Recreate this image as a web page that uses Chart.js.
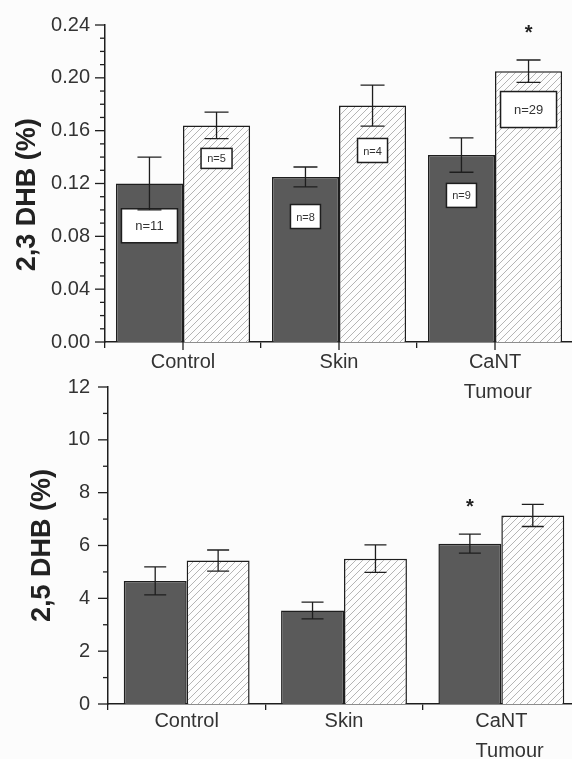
<!DOCTYPE html>
<html>
<head>
<meta charset="utf-8">
<script src="https://cdn.jsdelivr.net/npm/chart.js@4.4.1/dist/chart.umd.min.js"></script>
<style>
  body { margin: 0; background: #fcfcfc; width: 572px; height: 759px; overflow: hidden; position: relative; }
  canvas { position: absolute; left: 0; }
  #top { top: 0; }
  #bottom { top: 370px; }
</style>
</head>
<body>
<canvas id="top" width="573" height="410"></canvas>
<canvas id="bottom" width="580" height="389"></canvas>
<script>
// categories shared by both panels
const categories = ['Control', 'Skin', ['CaNT', ' Tumour']];
const categories25 = ['Control', 'Skin', ['CaNT', '   Tumour']];

// 2,3 DHB (%)
const dhb23Dark = [0.120, 0.125, 0.1415];
const dhb23DarkErr = [0.020, 0.0075, 0.013];
const dhb23Hatch = [0.164, 0.179, 0.205];
const dhb23HatchErr = [0.010, 0.0155, 0.0085];
const dhb23DarkN = ['n=11', 'n=8', 'n=9'];
const dhb23HatchN = ['n=5', 'n=4', 'n=29'];
const dhb23DarkNAt = [0.088, 0.095, 0.111];
const dhb23HatchNAt = [0.139, 0.145, 0.176];
const dhb23DarkStar = [false, false, false];
const dhb23HatchStar = [false, false, true];

// 2,5 DHB (%)
const dhb25Dark = [4.66, 3.54, 6.07];
const dhb25DarkErr = [0.53, 0.32, 0.36];
const dhb25Hatch = [5.43, 5.50, 7.14];
const dhb25HatchErr = [0.40, 0.52, 0.42];
const dhb25DarkStar = [false, false, true];
const dhb25HatchStar = [false, false, false];

// box sizes for the n= labels (style only)
const darkBoxSize = [[56, 34], [30, 24], [30, 24]];
const hatchBoxSize = [[31, 20], [30, 24], [56, 36]];

const FONT = "'Liberation Sans', Arial, sans-serif";
const INK = '#1e1e1e';

function hatch() {
  const c = document.createElement('canvas');
  c.width = 7; c.height = 7;
  const g = c.getContext('2d');
  g.fillStyle = '#fdfdfd';
  g.fillRect(0, 0, 7, 7);
  g.strokeStyle = '#b4b4b4';
  g.lineWidth = 1;
  g.beginPath();
  g.moveTo(0, 7); g.lineTo(7, 0);
  g.moveTo(-1, 1); g.lineTo(1, -1);
  g.moveTo(6, 8); g.lineTo(8, 6);
  g.stroke();
  return g.createPattern(c, 'repeat');
}

// error bars, n= boxes, stars, y minor ticks
const extras = {
  id: 'extras',
  afterDraw(chart, args, opts) {
    const ctx = chart.ctx;
    const y = chart.scales.y, x = chart.scales.x;
    ctx.save();
    ctx.strokeStyle = INK;
    ctx.lineWidth = 1.3;
    // y tick marks, major and minor
    y.ticks.forEach((t, i) => {
      const py = y.getPixelForValue(t.value);
      const len = i % opts.majorEvery === 0 ? 10 : 5;
      ctx.beginPath();
      ctx.moveTo(y.right - len, py);
      ctx.lineTo(y.right, py);
      ctx.stroke();
    });
    if (opts.centerTicks) {
      categories.forEach((c, i) => {
        const px = x.getPixelForValue(i);
        ctx.beginPath();
        ctx.moveTo(px, x.top);
        ctx.lineTo(px, x.top + 8);
        ctx.stroke();
      });
    }
    chart.data.datasets.forEach((ds, di) => {
      const meta = chart.getDatasetMeta(di);
      meta.data.forEach((bar, i) => {
        // n= box
        if (ds.nText) {
          const [w, h] = ds.boxSize[i];
          const cy = y.getPixelForValue(ds.nAt[i]);
          ctx.fillStyle = '#ffffff';
          ctx.fillRect(bar.x - w / 2, cy - h / 2, w, h);
          ctx.lineWidth = 1.5;
          ctx.strokeStyle = INK;
          ctx.strokeRect(bar.x - w / 2, cy - h / 2, w, h);
          ctx.fillStyle = '#333';
          ctx.font = (h > 30 ? '13px ' : '11px ') + FONT;
          ctx.textAlign = 'center';
          ctx.textBaseline = 'middle';
          ctx.fillText(ds.nText[i], bar.x, cy + 1);
        }
        // error bar
        const v = ds.data[i], e = ds.err[i];
        const yt = y.getPixelForValue(v + e), yb = y.getPixelForValue(v - e);
        const cap = opts.cap;
        ctx.strokeStyle = INK;
        ctx.lineWidth = 1.3;
        ctx.beginPath();
        ctx.moveTo(bar.x, yt); ctx.lineTo(bar.x, yb);
        ctx.moveTo(bar.x - cap / 2, yt); ctx.lineTo(bar.x + cap / 2, yt);
        ctx.moveTo(bar.x - cap / 2, yb); ctx.lineTo(bar.x + cap / 2, yb);
        ctx.stroke();
        if (ds.star[i]) {
          ctx.fillStyle = '#222';
          ctx.font = 'bold 20px ' + FONT;
          ctx.textAlign = 'center';
          ctx.textBaseline = 'middle';
          ctx.fillText('*', bar.x, yt - 27);
        }
      });
    });
    ctx.restore();
  }
};

function makeChart(id, cfg) {
  const pattern = hatch();
  return new Chart(document.getElementById(id), {
    type: 'bar',
    data: {
      labels: cfg.labels,
      datasets: [
        {
          data: cfg.dark, err: cfg.darkErr, star: cfg.darkStar,
          nText: cfg.darkN, nAt: cfg.darkNAt, boxSize: darkBoxSize,
          backgroundColor: '#5a5a5a', borderColor: INK, borderWidth: 1.5,
          categoryPercentage: cfg.catPct, barPercentage: 1
        },
        {
          data: cfg.hatch, err: cfg.hatchErr, star: cfg.hatchStar,
          nText: cfg.hatchN, nAt: cfg.hatchNAt, boxSize: hatchBoxSize,
          backgroundColor: pattern, borderColor: INK, borderWidth: 1.5,
          categoryPercentage: cfg.catPct, barPercentage: 1
        }
      ]
    },
    options: {
      responsive: false,
      animation: false,
      events: [],
      layout: { padding: { top: cfg.padTop, left: 0, right: 0, bottom: 0 } },
      plugins: {
        legend: { display: false },
        tooltip: { enabled: false },
        extras: { majorEvery: cfg.majorEvery, cap: cfg.cap, centerTicks: cfg.centerTicks }
      },
      scales: {
        x: {
          afterFit: s => { s.height = cfg.xHeight; s.paddingLeft = 0; s.paddingRight = 0; },
          grid: { display: true, drawOnChartArea: false, offset: true, tickLength: 6, color: INK, lineWidth: 1.3 },
          border: { display: true, color: INK, width: 1.5 },
          ticks: {
            color: '#333', padding: cfg.xPad,
            font: { family: FONT, size: 20, lineHeight: 1.5 }
          }
        },
        y: {
          min: 0, max: cfg.max,
          afterFit: s => { s.width = cfg.yWidth; s.paddingTop = 0; s.paddingBottom = 0; },
          grid: { display: false, drawTicks: false },
          border: { display: true, color: INK, width: 1.5 },
          title: {
            display: true, text: cfg.title, color: '#222',
            font: { family: FONT, size: 27, weight: 'bold' },
            padding: { top: cfg.titlePad, bottom: 0 }
          },
          ticks: {
            stepSize: cfg.minorStep, autoSkip: false,
            color: '#333', padding: cfg.tickPad,
            font: { family: FONT, size: 20 },
            callback: (v, i) => i % cfg.majorEvery === 0 ? v.toFixed(cfg.decimals) : ''
          }
        }
      }
    },
    plugins: [extras]
  });
}

makeChart('top', {
  labels: categories, title: '2,3 DHB (%)   ',
  dark: dhb23Dark, darkErr: dhb23DarkErr, darkStar: dhb23DarkStar, darkN: dhb23DarkN, darkNAt: dhb23DarkNAt,
  hatch: dhb23Hatch, hatchErr: dhb23HatchErr, hatchStar: dhb23HatchStar, hatchN: dhb23HatchN, hatchNAt: dhb23HatchNAt,
  max: 0.24, minorStep: 0.01, majorEvery: 4, decimals: 2,
  catPct: 0.86, cap: 24, centerTicks: true,
  padTop: 25, xHeight: 68, yWidth: 105, tickPad: 15, titlePad: 11, xPad: -1
});

makeChart('bottom', {
  labels: categories25, title: '2,5 DHB (%)',
  dark: dhb25Dark, darkErr: dhb25DarkErr, darkStar: dhb25DarkStar, darkN: null, darkNAt: null,
  hatch: dhb25Hatch, hatchErr: dhb25HatchErr, hatchStar: dhb25HatchStar, hatchN: null, hatchNAt: null,
  max: 12, minorStep: 1, majorEvery: 2, decimals: 0,
  catPct: 0.80, cap: 22, centerTicks: false,
  padTop: 17, xHeight: 55, yWidth: 108, tickPad: 18, titlePad: 26, xPad: -4
});
</script>
</body>
</html>
